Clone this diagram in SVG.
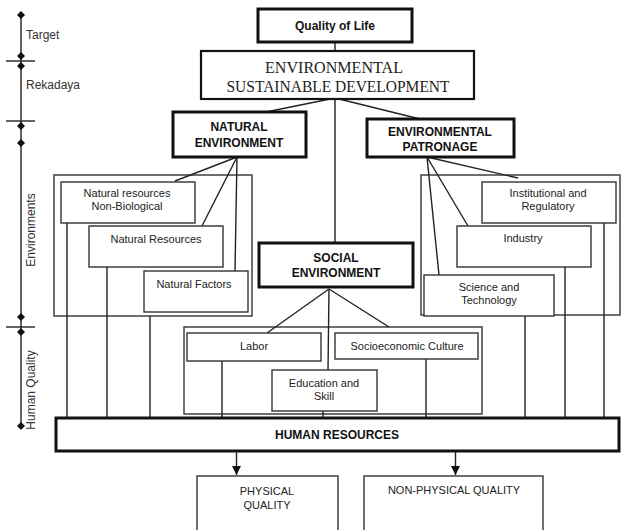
<svg xmlns="http://www.w3.org/2000/svg" width="626" height="530" viewBox="0 0 626 530">
<defs>
<marker id="arr" viewBox="0 0 10 10" refX="10" refY="5" markerWidth="9" markerHeight="9" markerUnits="userSpaceOnUse" orient="auto">
<path d="M0,0 L10,5 L0,10 Z" fill="#111"/>
</marker>
<path id="dia" d="M0,-4 L4,0 L0,4 L-4,0 Z" fill="#111"/>
</defs>
<style>
.thin{fill:#fff;stroke:#333;stroke-width:1.4}
.thick{fill:#fff;stroke:#111;stroke-width:3}
.mid{fill:#fff;stroke:#111;stroke-width:2.2}
.grp{fill:none;stroke:#333;stroke-width:1.4}
.ln{stroke:#222;stroke-width:1.4;fill:none}
.t{font-family:"Liberation Sans",Arial,sans-serif;font-size:11px;fill:#222;text-anchor:middle}
.b{font-family:"Liberation Sans",Arial,sans-serif;font-size:12px;font-weight:bold;fill:#111;text-anchor:middle}
.s{font-family:"Liberation Serif","Times New Roman",serif;font-size:16px;fill:#222;text-anchor:middle}
.ax{font-family:"Liberation Sans",Arial,sans-serif;font-size:12px;fill:#333}
</style>
<rect width="626" height="530" fill="#fff"/>

<g id="axis">
<line x1="21" y1="15" x2="21" y2="426" class="ln"/>
<line x1="6" y1="61" x2="35" y2="61" class="ln"/>
<line x1="6" y1="121" x2="35" y2="121" class="ln"/>
<line x1="6" y1="327" x2="35" y2="327" class="ln"/>
<use href="#dia" x="21" y="15"/>
<use href="#dia" x="21" y="56"/>
<use href="#dia" x="21" y="66"/>
<use href="#dia" x="21" y="126"/>
<use href="#dia" x="21" y="143"/>
<use href="#dia" x="21" y="317"/>
<use href="#dia" x="21" y="332"/>
<use href="#dia" x="21" y="426"/>
<text class="ax" x="26" y="39">Target</text>
<text class="ax" x="26" y="89">Rekadaya</text>
<text class="ax" text-anchor="middle" transform="translate(35,230) rotate(-90)">Environments</text>
<text class="ax" text-anchor="middle" transform="translate(35,390) rotate(-90)">Human Quality</text>
</g>

<g id="groups">
<rect class="grp" x="54" y="175" width="198" height="141"/>
<rect class="grp" x="421" y="175" width="199" height="140"/>
<rect class="grp" x="184" y="327" width="298" height="87"/>
</g>

<g id="connectors">
<line class="ln" x1="335" y1="42" x2="335" y2="51"/>
<line class="ln" x1="335" y1="98" x2="266" y2="112"/>
<line class="ln" x1="335" y1="98" x2="420" y2="119"/>
<line class="ln" x1="335" y1="98" x2="335" y2="243"/>
<line class="ln" x1="237" y1="157" x2="175" y2="181"/>
<line class="ln" x1="237" y1="157" x2="202" y2="226"/>
<line class="ln" x1="237" y1="157" x2="235" y2="271"/>
<line class="ln" x1="427" y1="157" x2="518" y2="178"/>
<line class="ln" x1="427" y1="157" x2="468" y2="226"/>
<line class="ln" x1="427" y1="157" x2="439" y2="275"/>
<line class="ln" x1="329" y1="289" x2="267" y2="333"/>
<line class="ln" x1="329" y1="289" x2="389" y2="327"/>
<line class="ln" x1="329" y1="289" x2="328" y2="370"/>
<line class="ln" x1="67" y1="223" x2="67" y2="418"/>
<line class="ln" x1="107" y1="267" x2="107" y2="418"/>
<line class="ln" x1="150" y1="316" x2="150" y2="418"/>
<line class="ln" x1="222" y1="361" x2="222" y2="418"/>
<line class="ln" x1="323" y1="390" x2="323" y2="418"/>
<line class="ln" x1="426" y1="359" x2="426" y2="418"/>
<line class="ln" x1="525" y1="316" x2="525" y2="418"/>
<line class="ln" x1="565" y1="267" x2="565" y2="418"/>
<line class="ln" x1="604" y1="223" x2="604" y2="418"/>
<line class="ln" x1="236.5" y1="452" x2="236.5" y2="475" marker-end="url(#arr)"/>
<line class="ln" x1="455.5" y1="452" x2="455.5" y2="475" marker-end="url(#arr)"/>
</g>

<g id="quality-of-life">
<rect class="thick" x="258" y="9" width="154" height="33"/>
<text class="b" x="335" y="30">Quality of Life</text>
</g>

<g id="esd">
<rect class="mid" x="201" y="51" width="273" height="48"/>
<text class="s" x="334" y="73" textLength="138" lengthAdjust="spacingAndGlyphs">ENVIRONMENTAL</text>
<text class="s" x="338" y="91.5" textLength="223" lengthAdjust="spacingAndGlyphs">SUSTAINABLE DEVELOPMENT</text>
</g>

<g id="natural-environment">
<rect class="thick" x="173" y="112" width="133" height="45"/>
<text class="b" x="239" y="131">NATURAL</text>
<text class="b" x="239" y="147">ENVIRONMENT</text>
</g>

<g id="environmental-patronage">
<rect class="thick" x="367" y="119" width="147" height="38"/>
<text class="b" x="440" y="136">ENVIRONMENTAL</text>
<text class="b" x="440" y="151">PATRONAGE</text>
</g>

<g id="nr-non-biological">
<rect class="thin" x="61" y="182" width="134" height="41"/>
<text class="t" x="127" y="197">Natural resources</text>
<text class="t" x="127" y="210">Non-Biological</text>
</g>

<g id="natural-resources">
<rect class="thin" x="89" y="226" width="134" height="41"/>
<text class="t" x="156" y="243">Natural Resources</text>
</g>

<g id="natural-factors">
<rect class="thin" x="144" y="271" width="104" height="41"/>
<text class="t" x="194" y="288">Natural Factors</text>
</g>

<g id="institutional">
<rect class="thin" x="482" y="182" width="134" height="41"/>
<text class="t" x="548" y="197">Institutional  and</text>
<text class="t" x="548" y="210">Regulatory</text>
</g>

<g id="industry">
<rect class="thin" x="457" y="226" width="134" height="41"/>
<text class="t" x="523" y="242">Industry</text>
</g>

<g id="science-technology">
<rect class="thin" x="424" y="275" width="130" height="41"/>
<text class="t" x="489" y="291">Science and</text>
<text class="t" x="489" y="304">Technology</text>
</g>

<g id="social-environment">
<rect class="thick" x="259" y="243" width="154" height="44"/>
<text class="b" x="336" y="262">SOCIAL</text>
<text class="b" x="336" y="277">ENVIRONMENT</text>
</g>

<g id="labor">
<rect class="thin" x="187" y="333" width="134" height="28"/>
<text class="t" x="254" y="350">Labor</text>
</g>

<g id="socioeconomic">
<rect class="thin" x="335" y="333" width="143" height="26"/>
<text class="t" x="407" y="350">Socioeconomic  Culture</text>
</g>

<g id="education">
<rect class="thin" x="272" y="370" width="105" height="41"/>
<text class="t" x="324" y="387">Education  and</text>
<text class="t" x="324" y="400">Skill</text>
</g>

<g id="human-resources">
<rect class="thick" x="56" y="418" width="563" height="33"/>
<text class="b" x="337" y="439">HUMAN RESOURCES</text>
</g>

<g id="physical-quality">
<rect class="thin" x="197" y="476" width="141" height="58"/>
<text class="t" x="267" y="495">PHYSICAL</text>
<text class="t" x="267" y="509">QUALITY</text>
</g>

<g id="non-physical-quality">
<rect class="thin" x="364" y="476" width="179" height="58"/>
<text class="t" x="454" y="494">NON-PHYSICAL  QUALITY</text>
</g>
</svg>
